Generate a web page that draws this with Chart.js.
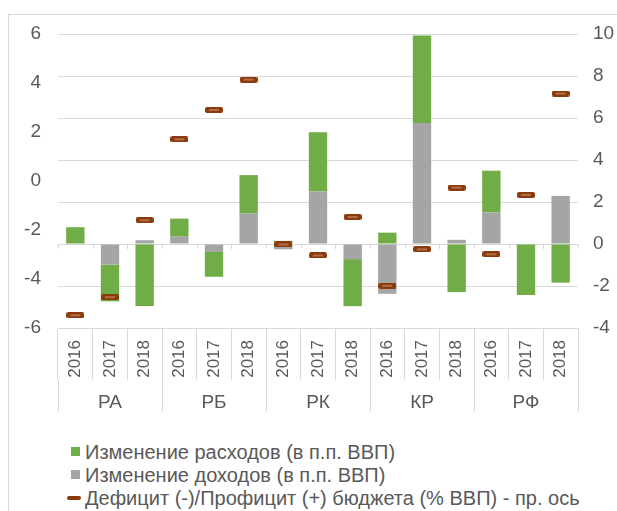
<!DOCTYPE html>
<html lang="ru">
<head>
    <meta charset="UTF-8">
    <title>Бюджет</title>
    <script src="https://cdn.jsdelivr.net/npm/chart.js"></script>
    <style>
        body {
            margin: 0;
            padding: 0;
            background: #ffffff;
            overflow: hidden;
            font-family: "Liberation Sans", Arial, sans-serif;
        }

        .frame {
            position: absolute;
            left: 8px;
            top: 14px;
            width: 700px;
            height: 600px;
            border: 1px solid #d9d9d9;
        }

        .chart-box {
            position: absolute;
            left: 0;
            top: 0;
            width: 617px;
            height: 420px;
        }

        .legend {
            position: absolute;
            left: 66px;
            top: 441px;
            font-size: 20px;
            line-height: 23px;
            color: #595959;
        }

        .legend div {
            white-space: nowrap;
        }

        .legend span {
            display: inline-block;
            vertical-align: middle;
            margin-right: 5px;
            position: relative;
            top: -2px;
        }
    </style>
</head>
<body>
    <div class="frame"></div>
    <div class="chart-box">
        <canvas id="budgetChart"></canvas>
    </div>
    <div class="legend" id="legend"></div>

    <script>
        // data
        const groups = ['РА', 'РБ', 'РК', 'КР', 'РФ'];
        const years = ['2016', '2017', '2018'];
        const categories = groups.flatMap(() => years);

        const expenditure = [0.8, -1.75, -2.95, 0.86, -1.18, 1.83, 0.15, 2.82, -2.24, 0.54, 4.17, -2.29, 1.99, -2.43, -1.84];
        const revenue = [0, -0.98, 0.18, 0.35, -0.38, 1.45, -0.25, 2.5, -0.72, -2.37, 5.76, 0.2, 1.5, 0, 2.29];
        const balance = [-5.48, -4.74, -1.6, 1.7, 2.9, 4.14, -2.59, -3.04, -1.47, -4.28, -2.79, -0.27, -2.99, -0.57, 3.57];

        const leftTicks = [-6, -4, -2, 0, 2, 4, 6];
        const rightTicks = [-4, -2, 0, 2, 4, 6, 8, 10];

        const labelNames = {
            exp: 'Изменение расходов (в п.п. ВВП)',
            rev: 'Изменение доходов (в п.п. ВВП)',
            bal: 'Дефицит (-)/Профицит (+) бюджета (% ВВП) - пр. ось'
        };

        const GREEN = '#70ad47';
        const GRAY = '#a5a5a5';
        const BROWN = '#8b3a0e';
        const TEXT = '#595959';
        const GRID = '#d9d9d9';
        const FONT = '"Liberation Sans", Arial, sans-serif';

        // dash marker for the deficit points
        const marker = document.createElement('canvas');
        marker.width = 18;
        marker.height = 6;
        (function () {
            const c = marker.getContext('2d');
            c.fillStyle = BROWN;
            c.beginPath();
            c.roundRect(0, 0, 18, 6, 2);
            c.fill();
            c.fillStyle = '#d9a37c';
            c.fillRect(4, 2.5, 10, 1);
        })();

        // small tick marks under the zero line
        const zeroTicks = {
            id: 'zeroTicks',
            beforeDatasetsDraw(chart) {
                const x = chart.scales.x;
                const y0 = chart.scales.y1.getPixelForValue(0);
                const n = categories.length;
                const w = (x.right - x.left) / n;
                const ctx = chart.ctx;
                ctx.save();
                ctx.strokeStyle = GRID;
                ctx.lineWidth = 1;
                ctx.beginPath();
                for (let i = 0; i <= n; i++) {
                    const px = Math.round(x.left + i * w) + 0.5;
                    ctx.moveTo(px, y0);
                    ctx.lineTo(px, y0 + 5);
                }
                ctx.stroke();
                ctx.restore();
            }
        };

        const ctx = document.getElementById('budgetChart').getContext('2d');
        const chart = new Chart(ctx, {
            type: 'bar',
            data: {
                labels: categories,
                datasets: [
                    {
                        label: labelNames.rev,
                        data: revenue,
                        backgroundColor: GRAY,
                        yAxisID: 'y1',
                        stack: 's',
                        barPercentage: 0.53,
                        categoryPercentage: 1,
                        order: 2
                    },
                    {
                        label: labelNames.exp,
                        data: expenditure,
                        backgroundColor: GREEN,
                        yAxisID: 'y1',
                        stack: 's',
                        barPercentage: 0.53,
                        categoryPercentage: 1,
                        order: 2
                    },
                    {
                        type: 'line',
                        label: labelNames.bal,
                        data: balance,
                        yAxisID: 'y',
                        showLine: false,
                        pointStyle: marker,
                        pointRadius: 9,
                        borderColor: BROWN,
                        backgroundColor: BROWN,
                        order: 1
                    }
                ]
            },
            options: {
                responsive: true,
                maintainAspectRatio: false,
                animation: false,
                layout: {
                    padding: { top: 34, left: 0, right: 0, bottom: 8 }
                },
                plugins: {
                    legend: { display: false },
                    tooltip: { enabled: false }
                },
                scales: {
                    x: {
                        type: 'category',
                        position: 'bottom',
                        weight: 0,
                        offset: true,
                        grid: {
                            drawOnChartArea: false,
                            offset: true,
                            color: GRID,
                            tickLength: 52
                        },
                        border: { display: true, color: GRID },
                        ticks: {
                            autoSkip: false,
                            minRotation: 90,
                            maxRotation: 90,
                            padding: -40,
                            color: TEXT,
                            font: { family: FONT, size: 17 }
                        },
                        afterFit: (s) => { s.height = 52; }
                    },
                    x2: {
                        type: 'category',
                        position: 'bottom',
                        weight: 1,
                        labels: groups,
                        offset: true,
                        grid: {
                            drawOnChartArea: false,
                            offset: true,
                            color: GRID,
                            tickLength: 32
                        },
                        border: { display: false },
                        ticks: {
                            autoSkip: false,
                            maxRotation: 0,
                            padding: -21,
                            color: TEXT,
                            font: { family: FONT, size: 19 }
                        },
                        afterFit: (s) => { s.height = 32; }
                    },
                    y: {
                        position: 'left',
                        min: leftTicks[0],
                        max: leftTicks[leftTicks.length - 1],
                        afterBuildTicks: (s) => { s.ticks = leftTicks.map(v => ({ value: v })); },
                        grid: { display: false, drawTicks: false },
                        border: { display: false },
                        ticks: {
                            padding: 17,
                            color: TEXT,
                            font: { family: FONT, size: 19 }
                        },
                        afterFit: (s) => { s.width = 58; }
                    },
                    y1: {
                        position: 'right',
                        min: rightTicks[0],
                        max: rightTicks[rightTicks.length - 1],
                        afterBuildTicks: (s) => { s.ticks = rightTicks.map(v => ({ value: v })); },
                        grid: { color: GRID, drawTicks: false },
                        border: { display: false },
                        ticks: {
                            padding: 15,
                            color: TEXT,
                            font: { family: FONT, size: 19 }
                        },
                        afterFit: (s) => { s.width = 39; }
                    }
                }
            },
            plugins: [zeroTicks]
        });

        // legend built from the datasets
        const legend = document.getElementById('legend');
        [chart.data.datasets[1], chart.data.datasets[0], chart.data.datasets[2]].forEach(ds => {
            const row = document.createElement('div');
            const icon = document.createElement('span');
            if (ds.type === 'line') {
                icon.style.width = '14px';
                icon.style.height = '4px';
                icon.style.borderRadius = '2px';
                icon.style.marginLeft = '1px';
                icon.style.marginRight = '4px';
            } else {
                icon.style.width = '9px';
                icon.style.height = '9px';
                icon.style.marginLeft = '5px';
            }
            icon.style.background = ds.backgroundColor;
            row.appendChild(icon);
            row.appendChild(document.createTextNode(ds.label));
            legend.appendChild(row);
        });
    </script>
</body>
</html>
